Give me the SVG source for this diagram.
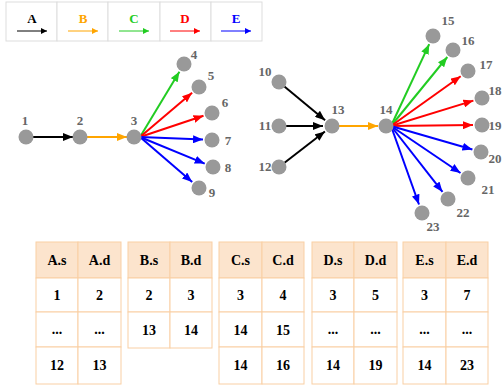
<svg xmlns="http://www.w3.org/2000/svg" width="503" height="385" viewBox="0 0 503 385">
<style>
.nd{fill:#999}
.lb{font-family:"Liberation Serif",serif;font-weight:bold;font-size:13px;fill:#666;text-anchor:middle}
.lg{font-family:"Liberation Serif",serif;font-weight:bold;font-size:13px;text-anchor:middle}
.cell{fill:#fff;stroke:#f9cfa4;stroke-width:1}
.hd{fill:#fce4cd;stroke:#f9cfa4;stroke-width:1}
.tt{font-family:"Liberation Serif",serif;font-weight:bold;font-size:14px;fill:#000;text-anchor:middle}
.lc{fill:#fff;stroke:#ddd;stroke-width:1}
</style>
<defs>
<marker id="mA" markerUnits="userSpaceOnUse" markerWidth="11" markerHeight="8" refX="10" refY="4" orient="auto"><path d="M0,0 L10,4 L0,8 z" fill="#000"/></marker>
<marker id="mB" markerUnits="userSpaceOnUse" markerWidth="11" markerHeight="8" refX="10" refY="4" orient="auto"><path d="M0,0 L10,4 L0,8 z" fill="#ffa500"/></marker>
<marker id="mC" markerUnits="userSpaceOnUse" markerWidth="11" markerHeight="8" refX="10" refY="4" orient="auto"><path d="M0,0 L10,4 L0,8 z" fill="#22cc22"/></marker>
<marker id="mD" markerUnits="userSpaceOnUse" markerWidth="11" markerHeight="8" refX="10" refY="4" orient="auto"><path d="M0,0 L10,4 L0,8 z" fill="#ff0000"/></marker>
<marker id="mE" markerUnits="userSpaceOnUse" markerWidth="11" markerHeight="8" refX="10" refY="4" orient="auto"><path d="M0,0 L10,4 L0,8 z" fill="#0000ff"/></marker>
<marker id="sA" markerUnits="userSpaceOnUse" markerWidth="7" markerHeight="6" refX="6" refY="3" orient="auto"><path d="M0,0 L6,3 L0,6 z" fill="#000"/></marker>
<marker id="sB" markerUnits="userSpaceOnUse" markerWidth="7" markerHeight="6" refX="6" refY="3" orient="auto"><path d="M0,0 L6,3 L0,6 z" fill="#ffa500"/></marker>
<marker id="sC" markerUnits="userSpaceOnUse" markerWidth="7" markerHeight="6" refX="6" refY="3" orient="auto"><path d="M0,0 L6,3 L0,6 z" fill="#22cc22"/></marker>
<marker id="sD" markerUnits="userSpaceOnUse" markerWidth="7" markerHeight="6" refX="6" refY="3" orient="auto"><path d="M0,0 L6,3 L0,6 z" fill="#ff0000"/></marker>
<marker id="sE" markerUnits="userSpaceOnUse" markerWidth="7" markerHeight="6" refX="6" refY="3" orient="auto"><path d="M0,0 L6,3 L0,6 z" fill="#0000ff"/></marker>
</defs>
<rect width="503" height="385" fill="#fff"/>

<g id="legend">
<rect class="lc" x="6" y="2" width="51" height="39"/>
<rect class="lc" x="57" y="2" width="51" height="39"/>
<rect class="lc" x="108" y="2" width="52" height="39"/>
<rect class="lc" x="160" y="2" width="51" height="39"/>
<rect class="lc" x="211" y="2" width="51" height="39"/>
<text class="lg" x="32" y="23" fill="#000">A</text>
<text class="lg" x="83" y="23" fill="#ffa500">B</text>
<text class="lg" x="134" y="23" fill="#22cc22">C</text>
<text class="lg" x="185" y="23" fill="#ff0000">D</text>
<text class="lg" x="236" y="23" fill="#0000ff">E</text>
<g stroke-width="1">
<line x1="17" y1="31" x2="47" y2="31" stroke="#000" marker-end="url(#sA)"/>
<line x1="68" y1="31" x2="98" y2="31" stroke="#ffa500" marker-end="url(#sB)"/>
<line x1="119" y1="31" x2="149" y2="31" stroke="#22cc22" marker-end="url(#sC)"/>
<line x1="170" y1="31" x2="200" y2="31" stroke="#ff0000" marker-end="url(#sD)"/>
<line x1="221" y1="31" x2="251" y2="31" stroke="#0000ff" marker-end="url(#sE)"/>
</g>
</g>

<g id="connectors" stroke-width="2" fill="none">
<line x1="33" y1="137" x2="73" y2="137" stroke="#000" marker-end="url(#mA)"/>
<line x1="87" y1="137" x2="127" y2="137" stroke="#ffa500" marker-end="url(#mB)"/>
<line x1="140" y1="137" x2="179.4" y2="71.7" stroke="#22cc22" marker-end="url(#mC)"/>
<line x1="140" y1="137" x2="192.1" y2="92.8" stroke="#ff0000" marker-end="url(#mD)"/>
<line x1="140" y1="137" x2="203.5" y2="115.8" stroke="#ff0000" marker-end="url(#mD)"/>
<line x1="140" y1="137" x2="203" y2="139.6" stroke="#0000ff" marker-end="url(#mE)"/>
<line x1="140" y1="137" x2="204.7" y2="163.6" stroke="#0000ff" marker-end="url(#mE)"/>
<line x1="140" y1="137" x2="192.2" y2="182.1" stroke="#0000ff" marker-end="url(#mE)"/>
<line x1="284.4" y1="86.5" x2="325.1" y2="120.2" stroke="#000" marker-end="url(#mA)"/>
<line x1="286" y1="126" x2="323" y2="126" stroke="#000" marker-end="url(#mA)"/>
<line x1="284.5" y1="162.7" x2="324.9" y2="131.5" stroke="#000" marker-end="url(#mA)"/>
<line x1="339" y1="126" x2="378" y2="126" stroke="#ffa500" marker-end="url(#mB)"/>
<line x1="391" y1="126" x2="429.2" y2="44.2" stroke="#22cc22" marker-end="url(#mC)"/>
<line x1="391" y1="126" x2="447.3" y2="57" stroke="#22cc22" marker-end="url(#mC)"/>
<line x1="391" y1="126" x2="460.7" y2="76.2" stroke="#ff0000" marker-end="url(#mD)"/>
<line x1="391" y1="126" x2="473.4" y2="100.6" stroke="#ff0000" marker-end="url(#mD)"/>
<line x1="391" y1="126" x2="473" y2="125.1" stroke="#ff0000" marker-end="url(#mD)"/>
<line x1="391" y1="126" x2="472.4" y2="149.5" stroke="#0000ff" marker-end="url(#mE)"/>
<line x1="391" y1="126" x2="460.5" y2="173" stroke="#0000ff" marker-end="url(#mE)"/>
<line x1="391" y1="126" x2="442.5" y2="191.9" stroke="#0000ff" marker-end="url(#mE)"/>
<line x1="391" y1="126" x2="419" y2="204.5" stroke="#0000ff" marker-end="url(#mE)"/>
</g>

<g id="n1"><circle class="nd" cx="26" cy="137" r="7.5"/><text class="lb" x="25" y="125">1</text></g>
<g id="n2"><circle class="nd" cx="80" cy="137" r="7.5"/><text class="lb" x="80" y="125">2</text></g>
<g id="n3"><circle class="nd" cx="134" cy="137" r="7.5"/><text class="lb" x="134" y="125">3</text></g>
<g id="n4"><circle class="nd" cx="184" cy="64" r="7.5"/><text class="lb" x="194" y="59">4</text></g>
<g id="n5"><circle class="nd" cx="199" cy="87" r="7.5"/><text class="lb" x="211" y="80">5</text></g>
<g id="n6"><circle class="nd" cx="212" cy="113" r="7.5"/><text class="lb" x="225" y="107">6</text></g>
<g id="n7"><circle class="nd" cx="212" cy="140" r="7.5"/><text class="lb" x="228" y="145">7</text></g>
<g id="n8"><circle class="nd" cx="213" cy="167" r="7.5"/><text class="lb" x="228" y="172">8</text></g>
<g id="n9"><circle class="nd" cx="199" cy="188" r="7.5"/><text class="lb" x="212" y="197">9</text></g>
<g id="n10"><circle class="nd" cx="279" cy="82" r="7.5"/><text class="lb" x="265" y="76">10</text></g>
<g id="n11"><circle class="nd" cx="279" cy="126" r="7.5"/><text class="lb" x="265" y="130">11</text></g>
<g id="n12"><circle class="nd" cx="279" cy="167" r="7.5"/><text class="lb" x="265" y="171">12</text></g>
<g id="n13"><circle class="nd" cx="332" cy="126" r="7.5"/><text class="lb" x="338" y="114">13</text></g>
<g id="n14"><circle class="nd" cx="386" cy="126" r="7.5"/><text class="lb" x="386" y="114">14</text></g>
<g id="n15"><circle class="nd" cx="433" cy="36" r="7.5"/><text class="lb" x="448" y="25">15</text></g>
<g id="n16"><circle class="nd" cx="453" cy="50" r="7.5"/><text class="lb" x="468" y="45">16</text></g>
<g id="n17"><circle class="nd" cx="468" cy="71" r="7.5"/><text class="lb" x="486" y="69">17</text></g>
<g id="n18"><circle class="nd" cx="482" cy="98" r="7.5"/><text class="lb" x="495" y="95">18</text></g>
<g id="n19"><circle class="nd" cx="482" cy="125" r="7.5"/><text class="lb" x="495" y="130">19</text></g>
<g id="n20"><circle class="nd" cx="481" cy="152" r="7.5"/><text class="lb" x="495" y="163">20</text></g>
<g id="n21"><circle class="nd" cx="468" cy="178" r="7.5"/><text class="lb" x="488" y="194">21</text></g>
<g id="n22"><circle class="nd" cx="448" cy="199" r="7.5"/><text class="lb" x="463" y="217">22</text></g>
<g id="n23"><circle class="nd" cx="422" cy="213" r="7.5"/><text class="lb" x="433" y="231">23</text></g>

<g id="tableA">
<rect class="hd" x="36" y="242" width="42" height="36"/><rect class="hd" x="78" y="242" width="43" height="36"/>
<rect class="cell" x="36" y="278" width="42" height="34"/><rect class="cell" x="78" y="278" width="43" height="34"/>
<rect class="cell" x="36" y="312" width="42" height="35"/><rect class="cell" x="78" y="312" width="43" height="35"/>
<rect class="cell" x="36" y="347" width="42" height="37"/><rect class="cell" x="78" y="347" width="43" height="37"/>
<text class="tt" x="57" y="265">A.s</text><text class="tt" x="99.5" y="265">A.d</text>
<text class="tt" x="57" y="300">1</text><text class="tt" x="99.5" y="300">2</text>
<text class="tt" x="57" y="334">...</text><text class="tt" x="99.5" y="334">...</text>
<text class="tt" x="57" y="370">12</text><text class="tt" x="99.5" y="370">13</text>
</g>
<g id="tableB">
<rect class="hd" x="128" y="242" width="42" height="36"/><rect class="hd" x="170" y="242" width="42" height="36"/>
<rect class="cell" x="128" y="278" width="42" height="34"/><rect class="cell" x="170" y="278" width="42" height="34"/>
<rect class="cell" x="128" y="312" width="42" height="36"/><rect class="cell" x="170" y="312" width="42" height="36"/>
<text class="tt" x="149" y="265">B.s</text><text class="tt" x="191" y="265">B.d</text>
<text class="tt" x="149" y="300">2</text><text class="tt" x="191" y="300">3</text>
<text class="tt" x="149" y="335">13</text><text class="tt" x="191" y="335">14</text>
</g>
<g id="tableC">
<rect class="hd" x="219" y="242" width="43" height="36"/><rect class="hd" x="262" y="242" width="42" height="36"/>
<rect class="cell" x="219" y="278" width="43" height="34"/><rect class="cell" x="262" y="278" width="42" height="34"/>
<rect class="cell" x="219" y="312" width="43" height="35"/><rect class="cell" x="262" y="312" width="42" height="35"/>
<rect class="cell" x="219" y="347" width="43" height="37"/><rect class="cell" x="262" y="347" width="42" height="37"/>
<text class="tt" x="240.5" y="265">C.s</text><text class="tt" x="283" y="265">C.d</text>
<text class="tt" x="240.5" y="300">3</text><text class="tt" x="283" y="300">4</text>
<text class="tt" x="240.5" y="335">14</text><text class="tt" x="283" y="335">15</text>
<text class="tt" x="240.5" y="370">14</text><text class="tt" x="283" y="370">16</text>
</g>
<g id="tableD">
<rect class="hd" x="312" y="242" width="42" height="36"/><rect class="hd" x="354" y="242" width="43" height="36"/>
<rect class="cell" x="312" y="278" width="42" height="34"/><rect class="cell" x="354" y="278" width="43" height="34"/>
<rect class="cell" x="312" y="312" width="42" height="35"/><rect class="cell" x="354" y="312" width="43" height="35"/>
<rect class="cell" x="312" y="347" width="42" height="37"/><rect class="cell" x="354" y="347" width="43" height="37"/>
<text class="tt" x="333" y="265">D.s</text><text class="tt" x="375.5" y="265">D.d</text>
<text class="tt" x="333" y="300">3</text><text class="tt" x="375.5" y="300">5</text>
<text class="tt" x="333" y="334">...</text><text class="tt" x="375.5" y="334">...</text>
<text class="tt" x="333" y="370">14</text><text class="tt" x="375.5" y="370">19</text>
</g>
<g id="tableE">
<rect class="hd" x="403" y="242" width="43" height="36"/><rect class="hd" x="446" y="242" width="42" height="36"/>
<rect class="cell" x="403" y="278" width="43" height="34"/><rect class="cell" x="446" y="278" width="42" height="34"/>
<rect class="cell" x="403" y="312" width="43" height="35"/><rect class="cell" x="446" y="312" width="42" height="35"/>
<rect class="cell" x="403" y="347" width="43" height="37"/><rect class="cell" x="446" y="347" width="42" height="37"/>
<text class="tt" x="424.5" y="265">E.s</text><text class="tt" x="467" y="265">E.d</text>
<text class="tt" x="424.5" y="300">3</text><text class="tt" x="467" y="300">7</text>
<text class="tt" x="424.5" y="334">...</text><text class="tt" x="467" y="334">...</text>
<text class="tt" x="424.5" y="370">14</text><text class="tt" x="467" y="370">23</text>
</g>
</svg>
